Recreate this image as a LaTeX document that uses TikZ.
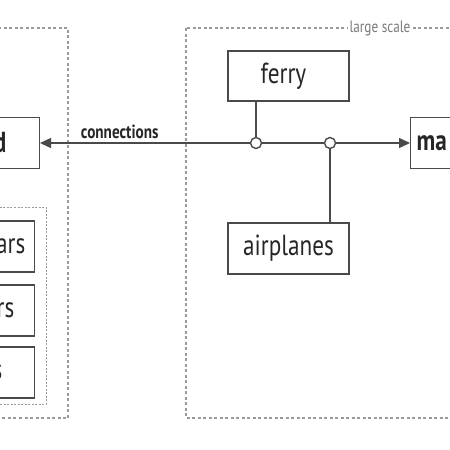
\documentclass[tikz,border=0pt]{standalone}
\usepackage{fontspec}
\setmainfont{PT Sans}[FakeStretch=0.8]
\usetikzlibrary{arrows.meta}
\definecolor{ink}{HTML}{4A4A4A}
\definecolor{txt}{HTML}{262626}
\definecolor{dash}{HTML}{9A9A9A}
\tikzset{
  box/.style={draw=ink, line width=1.4pt, fill=white, inner sep=0pt, text=txt, font=\fontsize{29}{31}\selectfont},
  bbox/.style={box, font=\fontsize{29}{31}\selectfont\bfseries},
  grp/.style={draw=dash, line width=1.4pt, dash pattern=on 3pt off 2.5pt},
  subgrp/.style={draw=dash, line width=1pt, dash pattern=on 2pt off 1.5pt},
  conn/.style={draw=ink, line width=1.4pt},
  junc/.style={circle, draw=ink, line width=1.4pt, fill=white, minimum size=11pt, inner sep=0pt},
  tip/.style={-{Triangle[length=11pt,width=10pt]}}
}
\begin{document}
\begin{tikzpicture}[x=1pt,y=-1pt]
\useasboundingbox (0,0) rectangle (450,450);
\clip (0,0) rectangle (450,450);
% groups
\draw[grp] (-20,28) rectangle (68,418);
\draw[grp] (186,28) rectangle (480,418);
\draw[subgrp] (-20,207) rectangle (46,404);
\node[fill=white, inner xsep=2pt, inner ysep=1pt, text=dash!80!black, font=\fontsize{16.5}{18}\selectfont] (lscale) at (380,28) {large scale};
% nodes
\node[bbox, anchor=east, minimum height=51pt, text width=100pt, align=right] (land) at (40,143) {d\hspace*{33pt}};
\node[box, anchor=east, minimum height=51pt, text width=100pt, align=right] (c1) at (35,246.5) {ars\hspace*{9pt}};
\node[box, anchor=east, minimum height=51pt, text width=100pt, align=right] (c2) at (35,310.5) {rs\hspace*{20pt}};
\node[box, anchor=east, minimum height=51pt, text width=100pt, align=right] (c3) at (35,372.5) {s\hspace*{32pt}};
\node[bbox, anchor=west, minimum height=51pt, text width=100pt, align=left] (main) at (410,143) {\hspace*{6pt}ma};
\node[box, minimum width=121pt, minimum height=50pt] (ferry) at (288.5,76) {ferry\hspace*{10pt}};
\node[box, minimum width=121pt, minimum height=51pt] (air) at (288.5,248.5) {airplanes};
\node[junc] (j1) at (256,143) {};
\node[junc] (j2) at (330,143) {};
% connectors
\draw[conn, tip] (j1) -- node[pos=0.62, above=0pt, text=txt, font=\fontsize{19}{21}\selectfont\bfseries] {connections} (land.east);
\draw[conn] (j1) -- (j2);
\draw[conn, tip] (j2) -- (main.west);
\draw[conn] (ferry.south -| j1) -- (j1);
\draw[conn] (air.north -| j2) -- (j2);
\end{tikzpicture}
\end{document}
